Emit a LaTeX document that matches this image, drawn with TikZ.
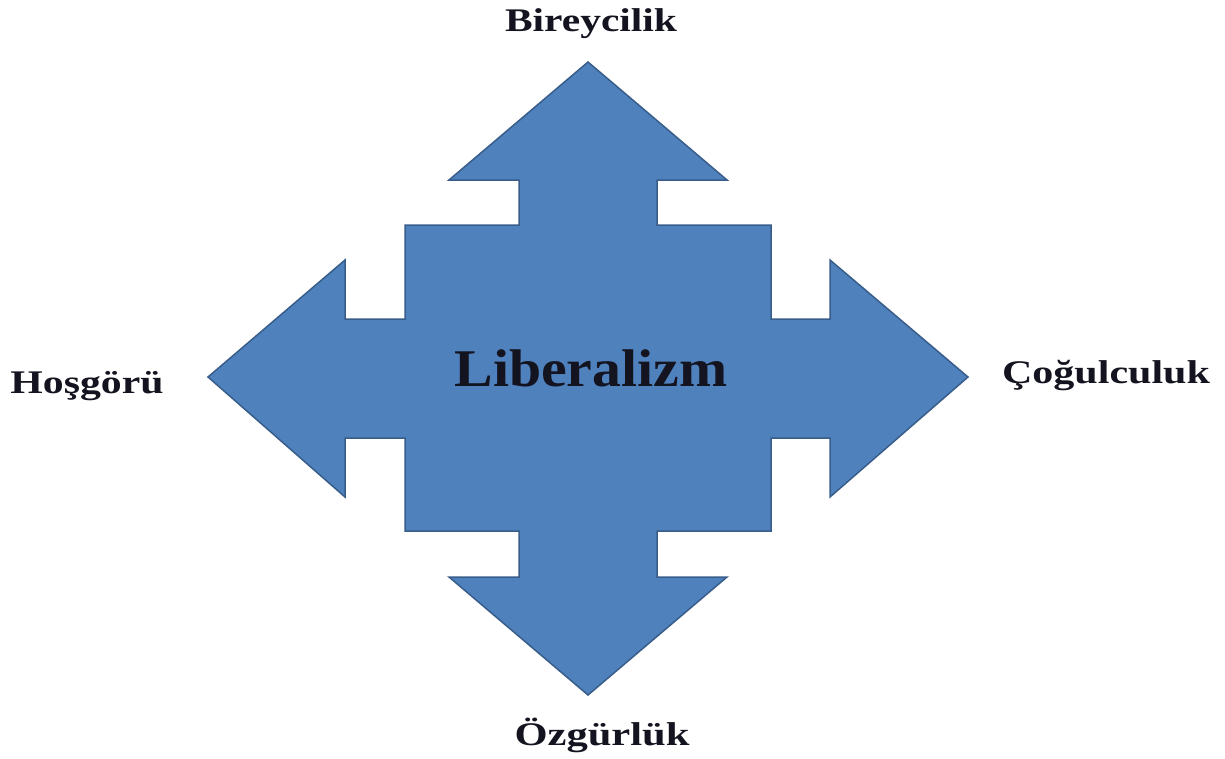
\documentclass[tikz,border=0pt]{standalone}
\usepackage{fontspec}
\setmainfont{Liberation Serif}
\definecolor{arrowfill}{HTML}{4F81BD}
\definecolor{arrowline}{HTML}{385D8A}
\definecolor{labeltext}{HTML}{141420}
\tikzset{
  quadarrow/.style={fill=arrowfill,draw=arrowline,line width=1.5pt,line join=miter},
  lbl/.style={anchor=base,inner sep=0pt,text=labeltext,font=\fontsize{33}{33}\selectfont\bfseries},
  bigtitle/.style={anchor=base,inner sep=0pt,text=labeltext,font=\fontsize{53}{53}\selectfont\bfseries}
}
\begin{document}
\begin{tikzpicture}[x=1pt,y=-1pt]
\useasboundingbox (0,0) rectangle (1225,758);
\draw[quadarrow] (588,62) -- (727,180) -- (657,180) -- (657,225) -- (771,225) -- (771,319) -- (830,319) -- (830,260) -- (968,377) -- (830,497) -- (830,438) -- (771,438) -- (771,531) -- (657,531) -- (657,577) -- (727,577) -- (588,695) -- (449,577) -- (519,577) -- (519,531) -- (405,531) -- (405,438) -- (345,438) -- (345,497) -- (208,377) -- (345,260) -- (345,319) -- (405,319) -- (405,225) -- (519,225) -- (519,180) -- (449,180) -- cycle;
\node[bigtitle] (lib) at (591,386) {\resizebox{273pt}{\height}{Liberalizm}};
\node[lbl] (bir) at (591,31) {\resizebox{172pt}{\height}{Bireycilik}};
\node[lbl] (hos) at (87,393) {\resizebox{153pt}{\height}{Hoşgörü}};
\node[lbl] (cog) at (1106,383) {\resizebox{208pt}{\height}{Çoğulculuk}};
\node[lbl] (ozg) at (602,745) {\resizebox{175pt}{\height}{Özgürlük}};
\end{tikzpicture}
\end{document}
